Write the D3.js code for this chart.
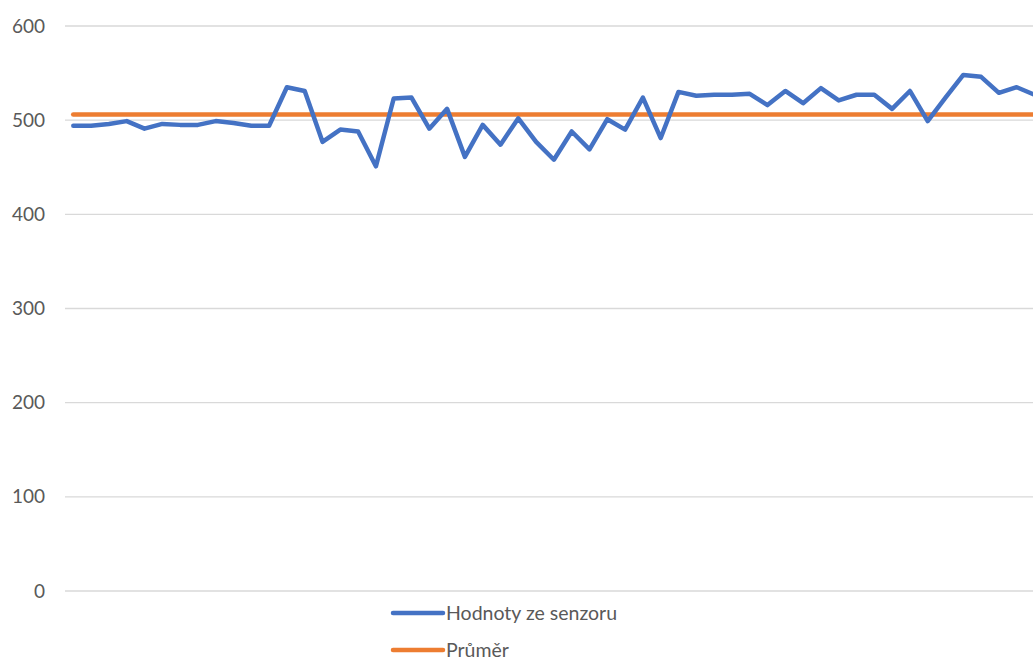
<!DOCTYPE html>
<html lang="cs">

<head>
    <meta charset="UTF-8">
    <title>Hodnoty ze senzoru</title>
    <script src="https://d3js.org/d3.v7.min.js"></script>
    <style>
        body {
            margin: 0;
            background: #fff;
            overflow: hidden;
        }

        text {
            font-family: Lato, "Open Sans", sans-serif;
            fill: #595959;
        }
    </style>
</head>

<body>
    <div id="chart"></div>
    <script>
        // data
        const hodnoty = [494, 494, 496, 499, 491, 496, 495, 495, 499, 497,
            494, 494, 535, 531, 477, 490, 488, 451, 523, 524,
            491, 512, 461, 495, 474, 502, 477, 458, 488, 469,
            501, 490, 524, 481, 530, 526, 527, 527, 528, 516,
            531, 518, 534, 521, 527, 527, 512, 531, 499, 524,
            548, 546, 529, 535, 527];
        const prumer = 506;
        const yTicks = [0, 100, 200, 300, 400, 500, 600];
        const seriesNames = ["Hodnoty ze senzoru", "Průměr"];
        const colors = ["#4472C4", "#ED7D31"];

        const width = 1033, height = 660;

        const svg = d3.select("#chart")
            .append("svg")
            .attr("width", width)
            .attr("height", height);

        const categories = hodnoty.map((d, i) => i + 1);

        // x: one point per reading, the chart runs off the right edge
        const x = d3.scalePoint()
            .domain(categories)
            .range([73.3, 1034.5]);

        const y = d3.scaleLinear()
            .domain([0, 600])
            .range([591, 26]);

        // gridlines
        svg.append("g")
            .selectAll("line")
            .data(yTicks)
            .enter()
            .append("line")
            .attr("x1", 65)
            .attr("x2", width)
            .attr("y1", d => y(d))
            .attr("y2", d => y(d))
            .attr("stroke", "#D9D9D9")
            .attr("stroke-width", 1.3);

        // y labels
        svg.append("g")
            .selectAll("text")
            .data(yTicks)
            .enter()
            .append("text")
            .attr("x", 45)
            .attr("y", d => y(d))
            .attr("dy", "0.35em")
            .attr("text-anchor", "end")
            .style("font-size", "19px")
            .text(d => d);

        // average line
        svg.append("line")
            .attr("x1", x(categories[0]))
            .attr("x2", x(categories[categories.length - 1]))
            .attr("y1", y(prumer))
            .attr("y2", y(prumer))
            .attr("stroke", colors[1])
            .attr("stroke-width", 4.7)
            .attr("stroke-linecap", "round");

        // sensor line
        const line = d3.line()
            .x((d, i) => x(categories[i]))
            .y(d => y(d));

        svg.append("path")
            .datum(hodnoty)
            .attr("d", line)
            .attr("fill", "none")
            .attr("stroke", colors[0])
            .attr("stroke-width", 4.5)
            .attr("stroke-linejoin", "round")
            .attr("stroke-linecap", "round");

        // legend
        const legend = svg.append("g")
            .selectAll("g")
            .data(seriesNames)
            .enter()
            .append("g")
            .attr("transform", (d, i) => "translate(393," + (613 + i * 37) + ")");

        legend.append("line")
            .attr("x1", 0)
            .attr("x2", 50)
            .attr("stroke", (d, i) => colors[i])
            .attr("stroke-width", 4.5)
            .attr("stroke-linecap", "round");

        legend.append("text")
            .attr("x", 53)
            .attr("dy", "0.35em")
            .style("font-size", "19.5px")
            .text(d => d);
    </script>
</body>

</html>
